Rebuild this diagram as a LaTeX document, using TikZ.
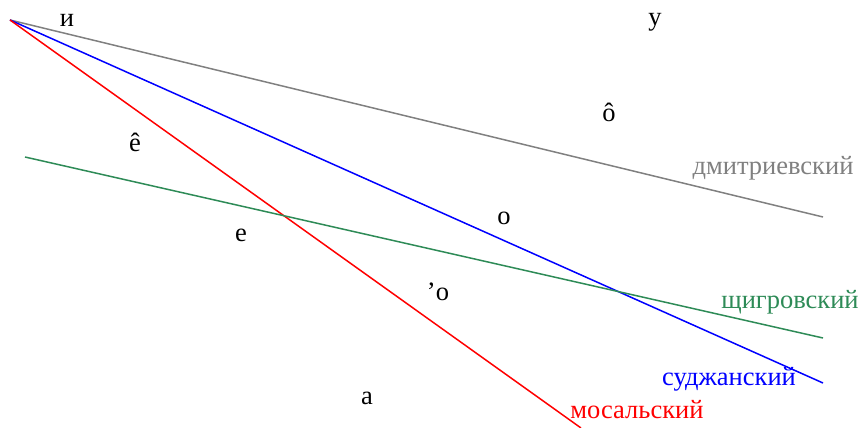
\documentclass[tikz,border=0pt]{standalone}
\usepackage{fontspec}
\setmainfont{Liberation Serif}
\usepackage{xcolor}
\definecolor{DialGreen}{HTML}{2E8B57}
\definecolor{DialGray}{HTML}{808080}
\usepackage{tikz}
\begin{document}
\begin{tikzpicture}[x=1pt,y=-1pt,every node/.style={font=\fontsize{26.5}{28}\selectfont,inner sep=0pt},
    iso/.style={line width=1.5pt}]
    \useasboundingbox (0,0) rectangle (860,428);
    \coordinate (src) at (10,20);
    \coordinate (dEnd) at (823,217);
    \coordinate (sEnd) at (823,383);
    \coordinate (mEnd) at (581,428);
    \coordinate (gStart) at (25,157);
    \coordinate (gEnd) at (823,338);
    \draw[iso,DialGray] (src) -- (dEnd);
    \draw[iso,blue] (src) -- (sEnd);
    \draw[iso,red] (src) -- (mEnd);
    \draw[iso,DialGreen] (gStart) -- (gEnd);
    \node (i) at (67,20) {и};
    \node (u) at (655,22) {у};
    \node (ohat) at (609,112) {ô};
    \node (ehat) at (135,142) {ê};
    \node (e) at (241,235) {е};
    \node (o) at (504,218) {о};
    \node (oapos) at (438,292) {’о};
    \node (a) at (367,398) {а};
    \node[DialGray] (dmitr) at (773,168) {дмитриевский};
    \node[DialGreen] (shchigr) at (790,302) {щигровский};
    \node[blue] (sudzh) at (729,379) {суджанский};
    \node[red] (mosal) at (637,410) {мосальский};
  \end{tikzpicture}
\end{document}
